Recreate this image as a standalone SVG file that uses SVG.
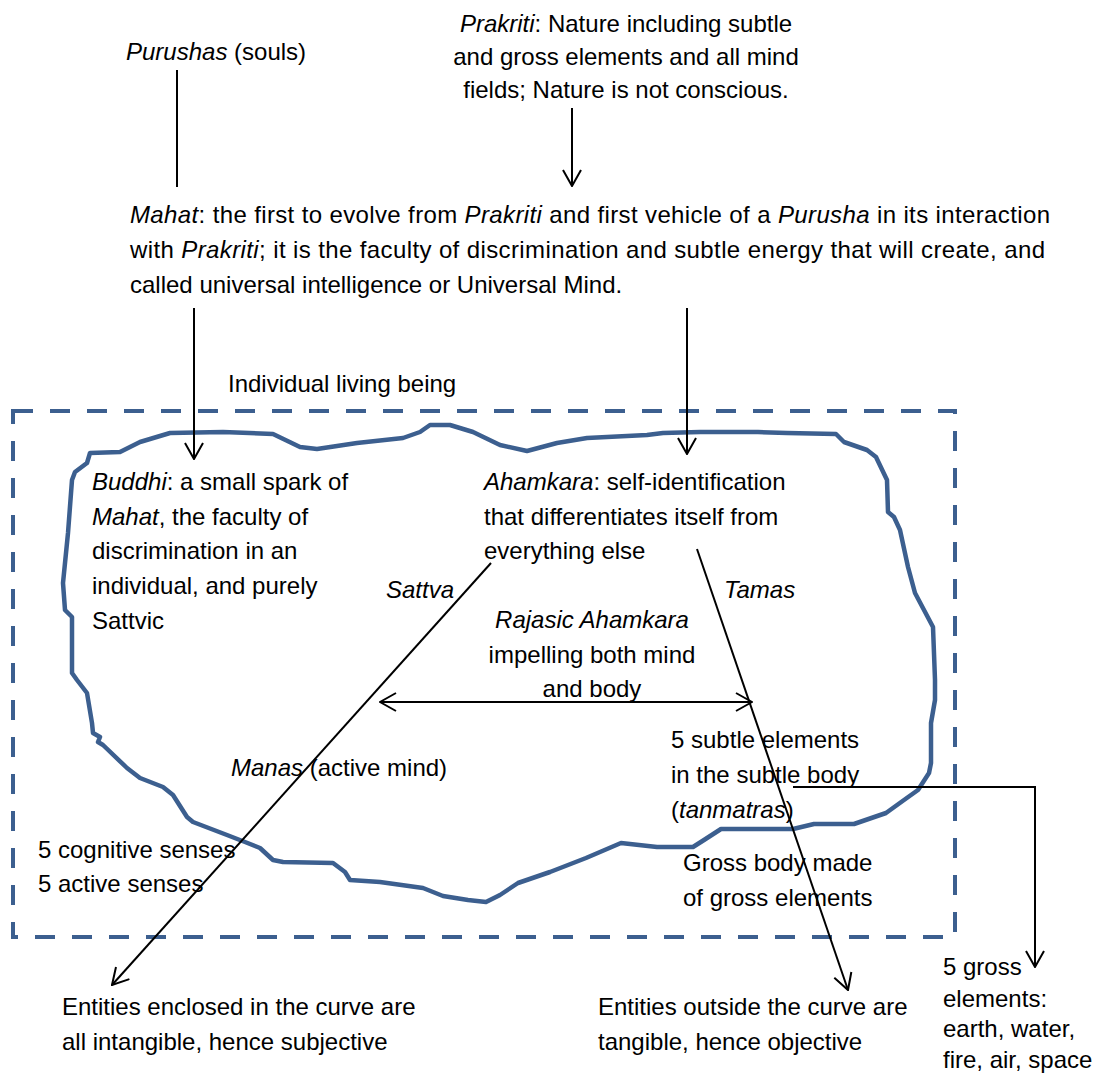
<svg xmlns="http://www.w3.org/2000/svg" width="1097" height="1078" viewBox="0 0 1097 1078">
<style>
  text { font-family: "Liberation Sans", Arial, sans-serif; font-size: 24px; fill: #000; }
  .it { font-style: italic; }
  .mid { text-anchor: middle; }
  .conn { fill: none; stroke: #000; stroke-width: 2; }
  .blue { fill: none; stroke: #3c5f8f; stroke-width: 4.5; stroke-linejoin: round; stroke-linecap: round; }
  .dash { fill: none; stroke: #3c5f8f; stroke-width: 4; stroke-dasharray: 20 17; }
</style>
<defs>
  <marker id="arr" viewBox="0 0 18 20" refX="17" refY="10" markerWidth="18" markerHeight="20" markerUnits="userSpaceOnUse" orient="auto-start-reverse">
    <path d="M1,1 L17,10 L1,19" fill="none" stroke="#000" stroke-width="2"/>
  </marker>
</defs>
<rect width="1097" height="1078" fill="#fff"/>

<g id="individual-box">
  <rect class="dash" x="13" y="411" width="942" height="526"/>
  <text x="228" y="392">Individual living being</text>
</g>

<g id="subjective-curve">
  <polygon class="blue" points="90,453 120,452 140,442 170,433 223,432 273,434 300,447 317,449 357,443 403,438 420,432 430,425 450,425 473,432 500,445 527,451 557,443 587,438 647,435 663,433 700,432 758,432 787,433 836,434 844,442 867,450 876,457 887,480 888,512 894,517 900,530 908,567 915,593 933,627 935,680 935,700 931,723 931,763 929,773 918,790 904,800 886,813 854,824 814,824 793,829 721,829 704,840 693,847 657,847 621,843 586,858 550,872 518,883 500,895 486,902 468,900 443,896 423,888 380,882 350,880 345,872 333,863 283,862 273,860 260,848 245,842 227,835 193,822 187,817 173,795 163,787 140,778 127,768 103,745 98,742 100,737 93,733 92,723 87,693 77,680 72,673 72,617 65,610 63,583 68,533 72,480 75,472 87,463"/>
</g>

<g id="connectors">
  <line class="conn" x1="177" y1="70" x2="177" y2="187"/>
  <line class="conn" x1="572" y1="108" x2="572" y2="186" marker-end="url(#arr)"/>
  <line class="conn" x1="194" y1="308" x2="194" y2="459" marker-end="url(#arr)"/>
  <line class="conn" x1="687" y1="308" x2="687" y2="454" marker-end="url(#arr)"/>
  <line class="conn" x1="491" y1="563" x2="112" y2="985" marker-end="url(#arr)"/>
  <line class="conn" x1="697" y1="549" x2="848" y2="990" marker-end="url(#arr)"/>
  <line class="conn" x1="380" y1="702" x2="752" y2="702" marker-start="url(#arr)" marker-end="url(#arr)"/>
  <polyline class="conn" points="793,787 1035,787 1035,967" marker-end="url(#arr)"/>
</g>

<g id="purushas">
  <text x="126" y="60"><tspan class="it">Purushas</tspan> (souls)</text>
</g>

<g id="prakriti">
  <text class="mid" x="626" y="32"><tspan class="it">Prakriti</tspan>: Nature including subtle</text>
  <text class="mid" x="626" y="65">and gross elements and all mind</text>
  <text class="mid" x="626" y="98">fields; Nature is not conscious.</text>
</g>

<g id="mahat">
  <text x="130" y="223" textLength="920" lengthAdjust="spacing"><tspan class="it">Mahat</tspan>: the first to evolve from <tspan class="it">Prakriti</tspan> and first vehicle of a <tspan class="it">Purusha</tspan> in its interaction</text>
  <text x="130" y="258" textLength="915" lengthAdjust="spacing">with <tspan class="it">Prakriti</tspan>; it is the faculty of discrimination and subtle energy that will create, and</text>
  <text x="130" y="293">called universal intelligence or Universal Mind.</text>
</g>

<g id="buddhi">
  <text x="92" y="490"><tspan class="it">Buddhi</tspan>: a small spark of</text>
  <text x="92" y="525"><tspan class="it">Mahat</tspan>, the faculty of</text>
  <text x="92" y="559">discrimination in an</text>
  <text x="92" y="594">individual, and purely</text>
  <text x="92" y="629">Sattvic</text>
</g>

<g id="ahamkara">
  <text x="484" y="490"><tspan class="it">Ahamkara</tspan>: self-identification</text>
  <text x="484" y="525">that differentiates itself from</text>
  <text x="484" y="559">everything else</text>
</g>

<g id="sattva"><text class="it" x="386" y="598">Sattva</text></g>
<g id="tamas"><text class="it" x="724" y="598">Tamas</text></g>

<g id="rajasic">
  <text class="mid it" x="592" y="628">Rajasic Ahamkara</text>
  <text class="mid" x="592" y="663">impelling both mind</text>
  <text class="mid" x="592" y="697">and body</text>
</g>

<g id="manas">
  <text x="231" y="776"><tspan class="it">Manas</tspan> (active mind)</text>
</g>

<g id="subtle-elements">
  <text x="671" y="748">5 subtle elements</text>
  <text x="671" y="783">in the subtle body</text>
  <text x="671" y="818">(<tspan class="it">tanmatras</tspan>)</text>
</g>

<g id="senses">
  <text x="38" y="858">5 cognitive senses</text>
  <text x="38" y="892">5 active senses</text>
</g>

<g id="gross-body">
  <text x="683" y="871">Gross body made</text>
  <text x="683" y="906">of gross elements</text>
</g>

<g id="subjective-note">
  <text x="62" y="1015">Entities enclosed in the curve are</text>
  <text x="62" y="1050">all intangible, hence subjective</text>
</g>

<g id="objective-note">
  <text x="598" y="1015">Entities outside the curve are</text>
  <text x="598" y="1050">tangible, hence objective</text>
</g>

<g id="gross-elements">
  <text x="943" y="975">5 gross</text>
  <text x="943" y="1007">elements:</text>
  <text x="943" y="1037">earth, water,</text>
  <text x="943" y="1068">fire, air, space</text>
</g>
</svg>
